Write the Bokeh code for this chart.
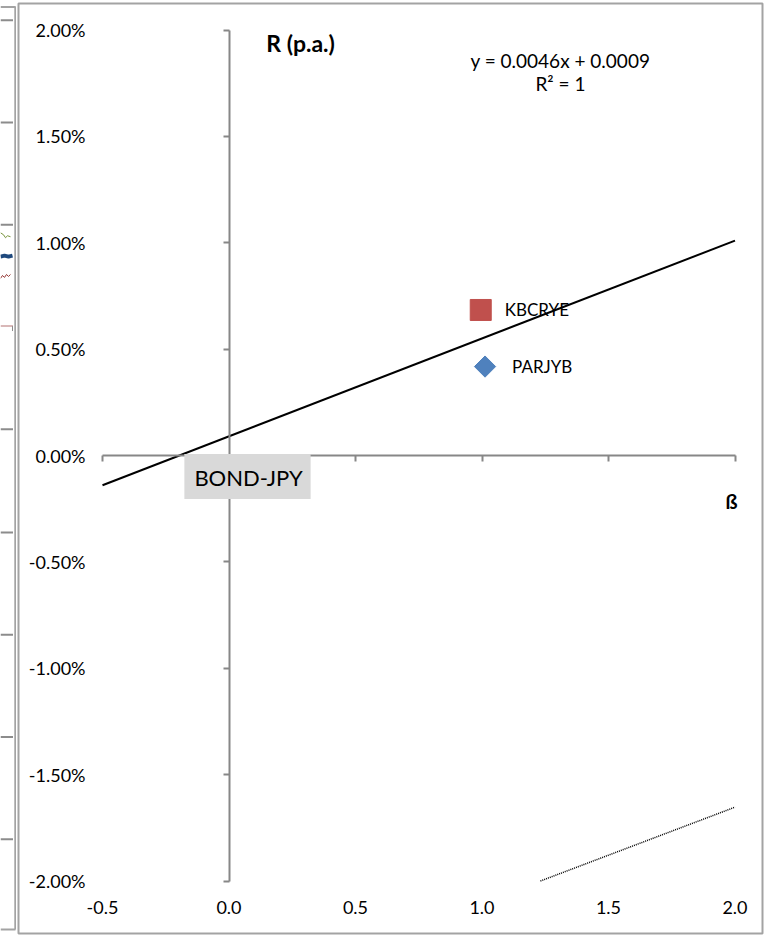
import numpy as np
from bokeh.plotting import figure
from bokeh.layouts import row
from bokeh.models import (LinearAxis, FixedTicker, NumeralTickFormatter, Label,
                          ColumnDataSource, Range1d)
from bokeh.core.properties import value
from bokeh.embed import file_html
from bokeh.resources import INLINE

# ---------------- data ----------------
names = ["KBCRYE", "PARJYB"]
beta = [0.995, 1.012]
ret = [0.00684, 0.00418]
markers = ["square", "square"]
marker_angles = [0.0, np.pi / 4]
marker_sizes = [21, 15]
marker_colors = ["#C0504D", "#4F81BD"]
label_offsets = [24, 27]

bond_name = "BOND-JPY"
bond_beta = 0.0
bond_ret = 0.0

trend_x = [-0.5, 2.0]
trend_y = [-0.0014, 0.0101]
dotted_x = [1.231, 2.0]
dotted_y = [-0.0200, -0.01653]

y_ticks = [-0.02, -0.015, -0.01, -0.005, 0.0, 0.005, 0.01, 0.015, 0.02]
x_ticks = [-0.5, 0.0, 0.5, 1.0, 1.5, 2.0]

equation = "y = 0.0046x + 0.0009"
r2_text = "R² = 1"
y_title = "R (p.a.)"
x_title = "ß"

# cut-off neighbouring chart at the left edge (pixel space of that strip)
strip_grid_y = [17, 120, 223, 429, 533, 636, 739, 842]
strip_pink_y = [325]
green_x = [0, 3, 5, 7, 10]
green_y = [231, 233, 236, 234, 235]
blue_x = [0, 4, 8, 12]
blue_y = [255, 254, 255, 254]
red_x = [0, 2, 4, 6, 8, 10]
red_y = [277, 274, 276, 273, 275, 273]

FONT = "Lato"
GREY = "#878787"
BORDER = "#a3a3a3"

# ---------------- left strip ----------------
strip = figure(width=16, height=937, x_range=Range1d(0, 16), y_range=Range1d(937, 0),
               output_backend="svg", toolbar_location=None,
               x_axis_type=None, y_axis_type=None,
               min_border=0, min_border_left=0, min_border_right=0,
               min_border_top=0, min_border_bottom=0, outline_line_color=None)
strip.segment(x0=[0] * len(strip_grid_y), x1=[12.5] * len(strip_grid_y),
              y0=strip_grid_y, y1=strip_grid_y, line_color="#8c8c8c", line_width=2)
strip.segment(x0=[0], x1=[12.5], y0=strip_pink_y, y1=strip_pink_y,
              line_color="#d9b8b8", line_width=2)
strip.segment(x0=[12], x1=[12], y0=strip_pink_y, y1=[strip_pink_y[0] + 5],
              line_color="#8c8c8c", line_width=1)
strip.line(green_x, green_y, line_color="#77933C", line_width=1)
strip.line(blue_x, blue_y, line_color="#1F497D", line_width=4)
strip.line(red_x, red_y, line_color="#953735", line_width=1)
strip.segment(x0=[14.8], x1=[14.8], y0=[3], y1=[933], line_color=BORDER, line_width=2)
strip.segment(x0=[0], x1=[15], y0=[3.5], y1=[3.5], line_color=BORDER, line_width=2)
strip.segment(x0=[0], x1=[15], y0=[933], y1=[933], line_color=BORDER, line_width=2)

# ---------------- main chart ----------------
PX0, PXU = 228.5, 253.0        # pixel of beta=0, pixels per beta unit
PY0, PYU = 455.0, 21275.0      # pixel of R=0, pixels per unit return
FL, FR, FT, FB = 18.0, 762.0, 3.0, 933.0   # frame edges on the page

x_range = Range1d((FL - PX0) / PXU, (FR - PX0) / PXU)
y_range = Range1d((PY0 - FB) / PYU, (PY0 - FT) / PYU)

p = figure(width=749, height=937, x_range=x_range, y_range=y_range,
           output_backend="svg", toolbar_location=None,
           x_axis_type=None, y_axis_type=None,
           min_border_left=2, min_border_right=3, min_border_top=3, min_border_bottom=4,
           outline_line_color=BORDER, outline_line_width=2)

# axis through zero (lines + ticks)
yzero = LinearAxis(fixed_location=0.0, bounds=(y_ticks[0], y_ticks[-1]),
                   ticker=FixedTicker(ticks=y_ticks),
                   axis_line_color=GREY, axis_line_width=2,
                   major_tick_line_color=GREY, major_tick_line_width=2,
                   major_tick_in=0, major_tick_out=6,
                   minor_tick_line_color=None, major_label_text_alpha=0)
p.add_layout(yzero, "left")
xzero = LinearAxis(fixed_location=0.0, bounds=(x_ticks[0], x_ticks[-1]),
                   ticker=FixedTicker(ticks=x_ticks),
                   axis_line_color=GREY, axis_line_width=2,
                   major_tick_line_color=GREY, major_tick_line_width=2,
                   major_tick_in=0, major_tick_out=6,
                   minor_tick_line_color=None, major_label_text_alpha=0)
p.add_layout(xzero, "below")

# tick labels at low position
ylab = LinearAxis(fixed_location=x_ticks[0], ticker=FixedTicker(ticks=y_ticks),
                  formatter=NumeralTickFormatter(format="0.00%"),
                  axis_line_color=None, major_tick_line_color=None,
                  minor_tick_line_color=None, major_tick_in=0, major_tick_out=0,
                  major_label_standoff=17,
                  major_label_text_font=FONT, major_label_text_font_size="18px",
                  major_label_text_color="#000000")
p.add_layout(ylab, "left")
xlab = LinearAxis(fixed_location=y_ticks[0], ticker=FixedTicker(ticks=x_ticks),
                  formatter=NumeralTickFormatter(format="0.0"),
                  axis_line_color=None, major_tick_line_color=None,
                  minor_tick_line_color=None, major_tick_in=0, major_tick_out=0,
                  major_label_standoff=20,
                  major_label_text_font=FONT, major_label_text_font_size="18px",
                  major_label_text_color="#000000")
p.add_layout(xlab, "below")

# trend line and dotted line
p.line(trend_x, trend_y, line_color="black", line_width=2)
p.line(dotted_x, dotted_y, line_color="black", line_width=1.5, line_dash="1 1")

# points
src = ColumnDataSource(dict(x=beta, y=ret, name=names, marker=markers,
                            angle=marker_angles, size=marker_sizes,
                            color=marker_colors, off=label_offsets))
p.scatter(x="x", y="y", marker="marker", angle="angle", size="size",
          fill_color="color", line_color="color", source=src)
p.text(x="x", y="y", text="name", x_offset="off", text_baseline="middle",
       text_align="left", text_font=value(FONT), text_font_size="17px",
       text_color="black", source=src)

# BOND-JPY label with grey box
p.add_layout(Label(x=bond_beta, y=bond_ret, text=bond_name, x_offset=18.5, y_offset=-21,
                   text_align="center", text_baseline="middle",
                   text_font=FONT, text_font_size="22px", text_color="black",
                   background_fill_color="#d9d9d9", padding=(10, 8, 10, 8)))

# equation / R2
p.add_layout(Label(x=1.310, y=0.018566, text=equation, text_align="center",
                   text_baseline="middle", text_font=FONT, text_font_size="19px",
                   text_color="black"))
p.add_layout(Label(x=1.310, y=0.017485, text=r2_text, text_align="center",
                   text_baseline="middle", text_font=FONT, text_font_size="19px",
                   text_color="black"))

# axis titles
p.add_layout(Label(x=0.283, y=0.01937, text=y_title, text_align="center",
                   text_baseline="middle", text_font=FONT, text_font_size="23px",
                   text_font_style="bold", text_color="black"))
p.add_layout(Label(x=1.986, y=-0.00212, text=x_title, text_align="center",
                   text_baseline="middle", text_font=FONT, text_font_size="20px",
                   text_font_style="bold", text_color="black"))

lay = row(strip, p, margin=0)

open("out.html", "w").write(file_html(lay, INLINE, "chart"))
